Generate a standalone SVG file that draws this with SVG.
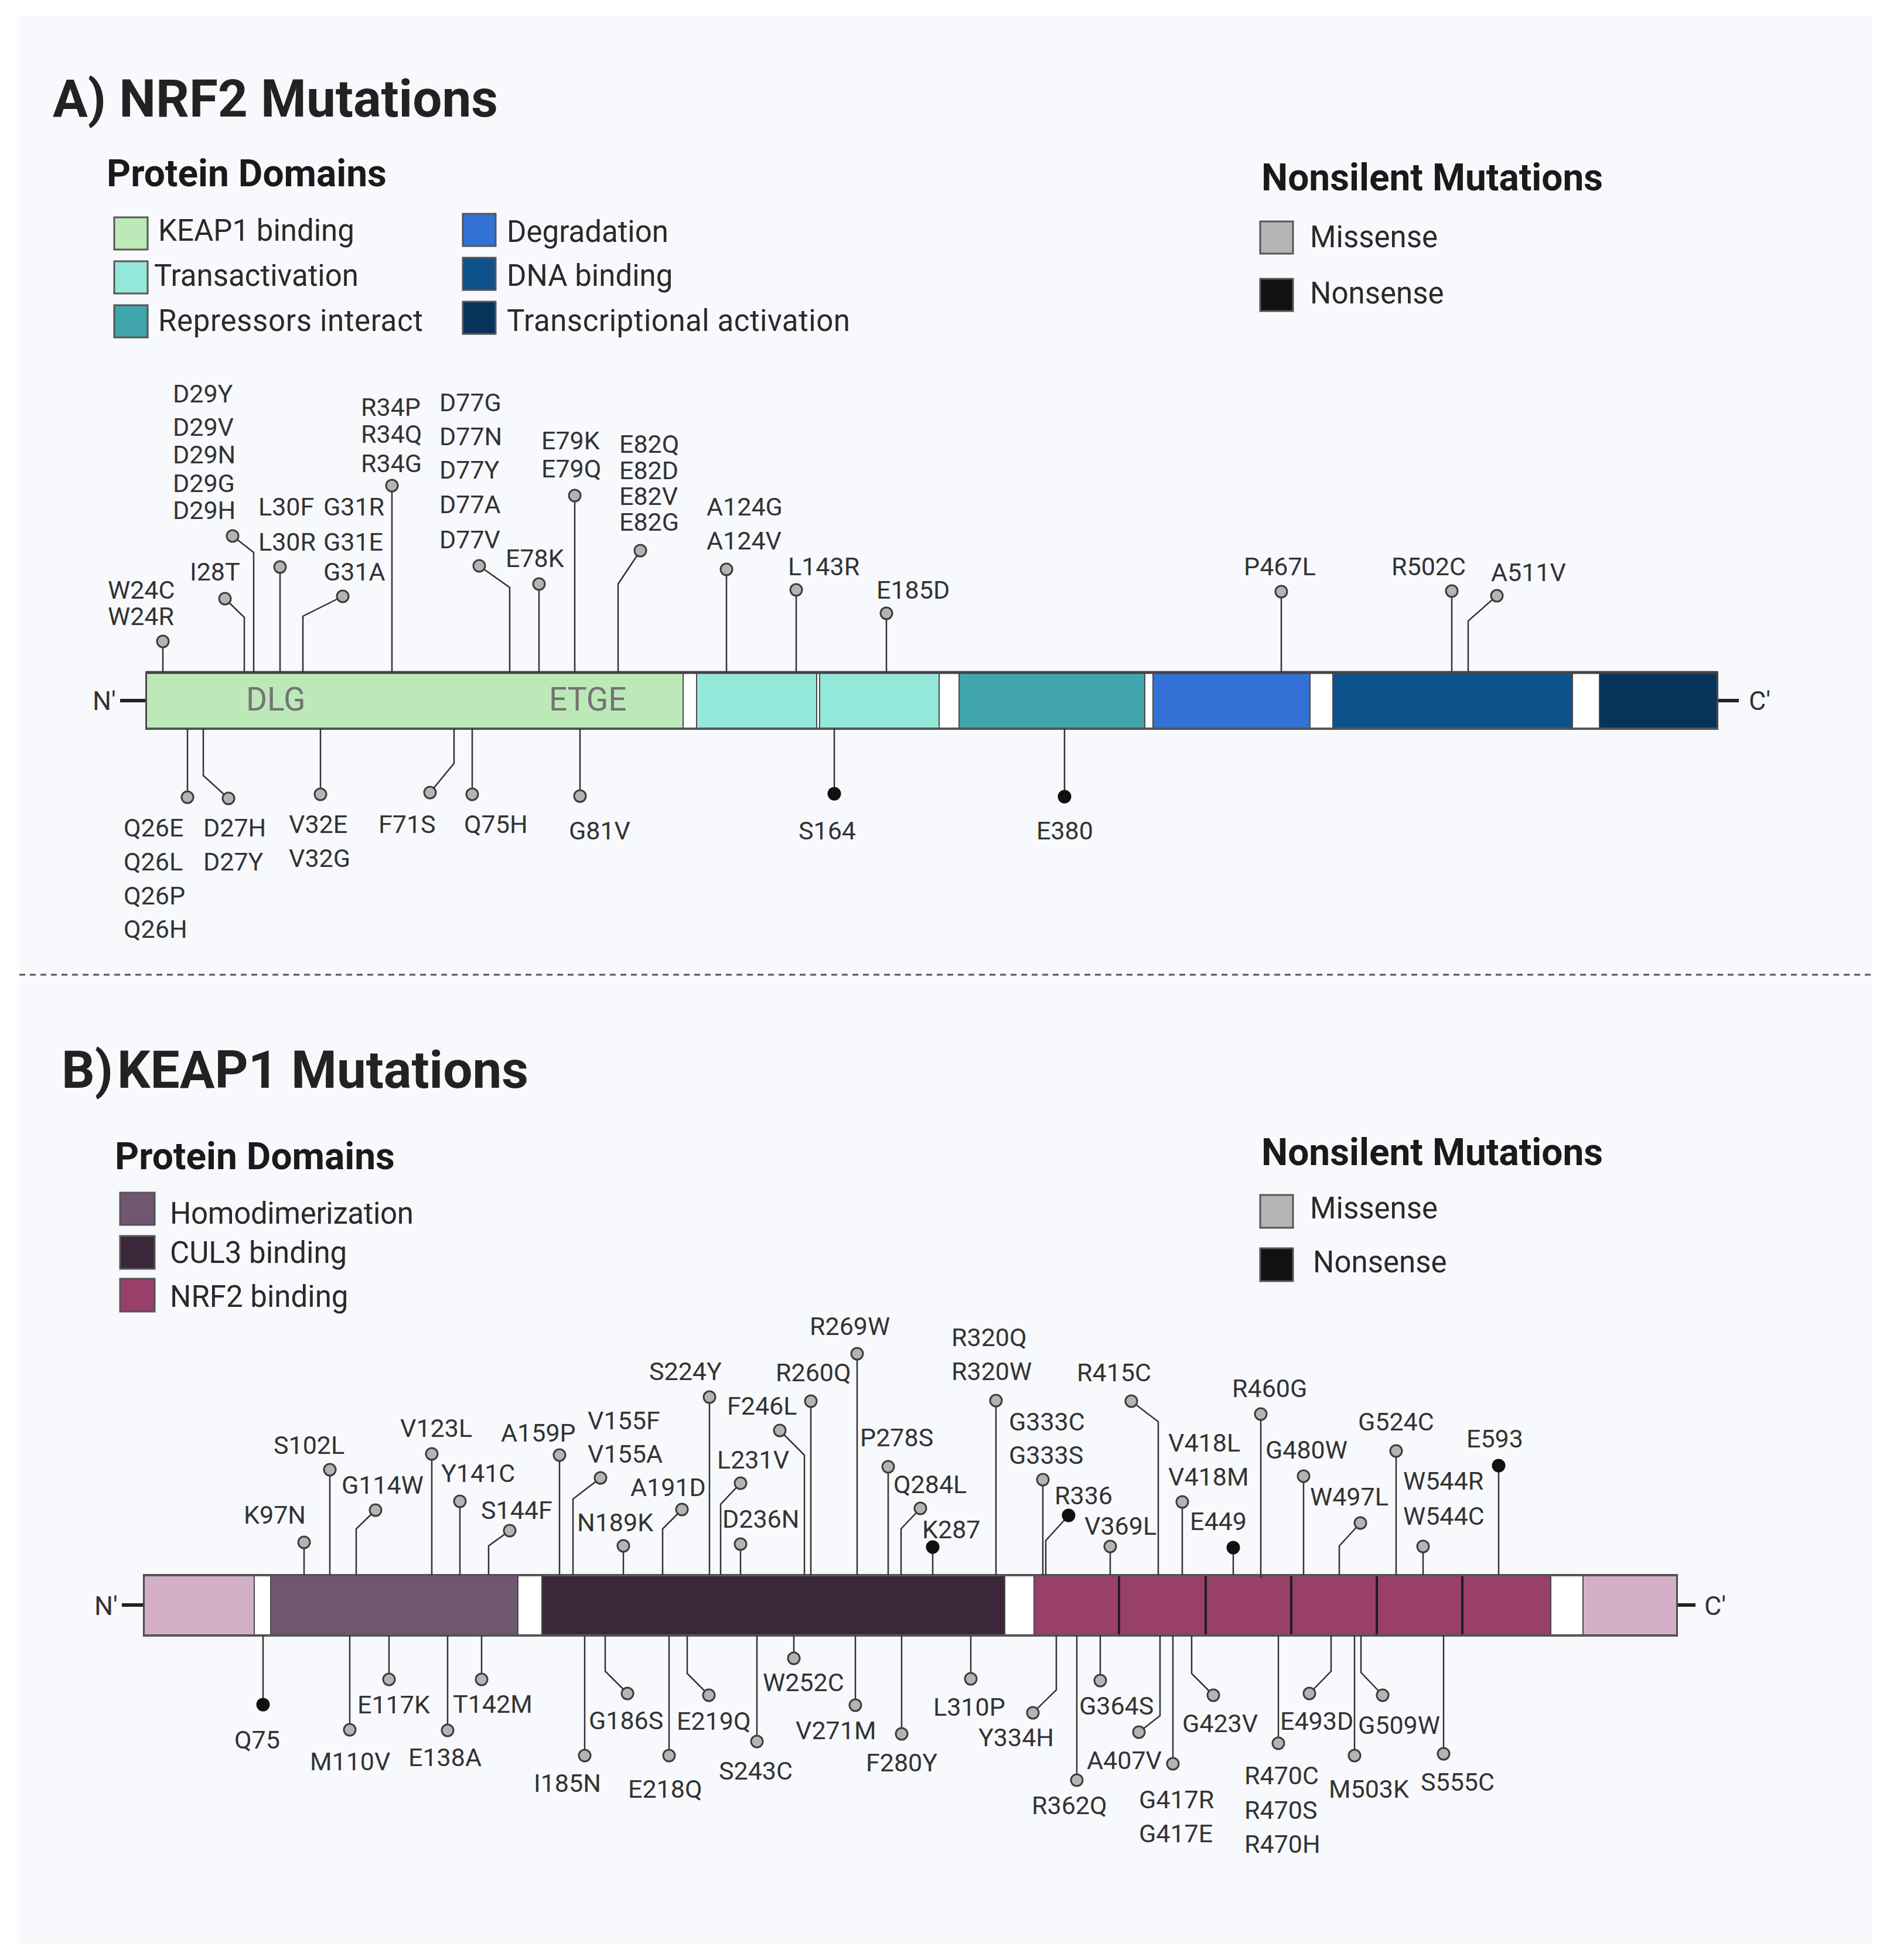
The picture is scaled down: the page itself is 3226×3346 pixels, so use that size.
<svg xmlns="http://www.w3.org/2000/svg" width="3226" height="3346" viewBox="0 0 3226 3346">
<style>
text{font-family:Roboto,"Liberation Sans",sans-serif;fill:#333}
.t1{font-size:89px;font-weight:700;fill:#222}
.t2{font-size:64px;font-weight:700;fill:#1a1a1a}
.lg{font-size:51px;fill:#2a2a2a}
.l{font-size:43px}
.nc{font-size:45px}
.dm{font-size:55px;fill:#747474}
.sq{stroke:#555;stroke-width:3}
.st{stroke:#333;stroke-width:2.5;fill:none}
.m{fill:#b4b4b4;stroke:#3d3d3d;stroke-width:3}
.n{fill:#111;stroke:#111;stroke-width:3}
.bd{stroke:#4a4a4a;stroke-width:2}
</style>
<rect x="0" y="0" width="3226" height="3346" fill="#ffffff"/>
<rect x="33" y="27" width="3162" height="3292" fill="#f8f9fc"/>
<line x1="33" y1="1664" x2="3195" y2="1664" stroke="#555" stroke-width="3" stroke-dasharray="10 8"/>

<!-- Panel A -->
<g id="titleA"><text class="t1" x="90" y="199">A) NRF2 Mutations</text></g>
<g id="legendA-domains">
<text class="t2" x="182" y="318">Protein Domains</text>
<rect class="sq" x="195" y="371" width="57" height="55" fill="#bde9b9"/><text class="lg" x="270" y="411">KEAP1 binding</text>
<rect class="sq" x="195" y="446" width="57" height="55" fill="#94e8da"/><text class="lg" x="263" y="488">Transactivation</text>
<rect class="sq" x="195" y="521" width="57" height="55" fill="#41a5ae"/><text class="lg" x="270" y="565" textLength="452">Repressors interact</text>
<rect class="sq" x="790" y="365" width="56" height="55" fill="#3272d6"/><text class="lg" x="865" y="413">Degradation</text>
<rect class="sq" x="790" y="440" width="56" height="55" fill="#0e528c"/><text class="lg" x="865" y="488">DNA binding</text>
<rect class="sq" x="790" y="515" width="56" height="55" fill="#06335a"/><text class="lg" x="865" y="565" textLength="586">Transcriptional activation</text>
</g>
<g id="legendA-mut">
<text class="t2" x="2153" y="325">Nonsilent Mutations</text>
<rect class="sq" x="2151" y="378" width="56" height="55" fill="#b4b4b4"/><text class="lg" x="2236" y="422">Missense</text>
<rect class="sq" x="2151" y="476" width="56" height="55" fill="#111"/><text class="lg" x="2236" y="518">Nonsense</text>
</g>

<g id="nrf2-bar">
<line x1="205" y1="1196" x2="250" y2="1196" stroke="#222" stroke-width="6"/>
<text class="nc" x="158" y="1212">N'</text>
<line x1="2931" y1="1196" x2="2968" y2="1196" stroke="#222" stroke-width="6"/>
<text class="nc" x="2985" y="1212">C'</text>
<rect x="250" y="1148" width="2681" height="96" fill="#fff" stroke="#4a4a4a" stroke-width="4"/>
<rect class="bd" x="250" y="1148" width="916" height="96" fill="#bde9b9"/>
<rect class="bd" x="1189" y="1148" width="205" height="96" fill="#94e8da"/>
<rect class="bd" x="1399" y="1148" width="204" height="96" fill="#94e8da"/>
<rect class="bd" x="1637" y="1148" width="317" height="96" fill="#41a5ae"/>
<rect class="bd" x="1968" y="1148" width="268" height="96" fill="#3272d6"/>
<rect class="bd" x="2275" y="1148" width="409" height="96" fill="#0e528c"/>
<rect class="bd" x="2730" y="1148" width="201" height="96" fill="#06335a"/>
<line x1="250" y1="1148" x2="2931" y2="1148" stroke="#444" stroke-width="5"/>
<line x1="250" y1="1244" x2="2931" y2="1244" stroke="#555" stroke-width="4"/>
<text class="dm" x="420" y="1213">DLG</text>
<text class="dm" x="937" y="1213">ETGE</text>
</g>

<g id="nrf2-connectors">
<polyline class="st" points="278,1148 278,1095"/>
<polyline class="st" points="417,1148 417,1054 384,1022"/>
<polyline class="st" points="433,1148 433,943 397,915"/>
<polyline class="st" points="478,1148 478,968"/>
<polyline class="st" points="517,1148 517,1052 585,1018"/>
<polyline class="st" points="669,1148 669,829"/>
<polyline class="st" points="870,1148 870,1003 818,966"/>
<polyline class="st" points="920,1148 920,997"/>
<polyline class="st" points="981,1148 981,846"/>
<polyline class="st" points="1055,1148 1055,997 1093,940"/>
<polyline class="st" points="1240,1148 1240,972"/>
<polyline class="st" points="1359,1148 1359,1007"/>
<polyline class="st" points="1513,1148 1513,1047"/>
<polyline class="st" points="2187,1148 2187,1010"/>
<polyline class="st" points="2478,1148 2478,1009"/>
<polyline class="st" points="2506,1148 2506,1060 2555,1017"/>
<polyline class="st" points="320,1244 320,1361"/>
<polyline class="st" points="347,1244 347,1324 390,1363"/>
<polyline class="st" points="547,1244 547,1356"/>
<polyline class="st" points="775,1244 775,1303 734,1353"/>
<polyline class="st" points="806,1244 806,1356"/>
<polyline class="st" points="990,1244 990,1359"/>
<polyline class="st" points="1424,1244 1424,1355"/>
<polyline class="st" points="1817,1244 1817,1360"/>
</g>

<g id="nrf2-W24"><circle class="m" cx="278" cy="1095" r="10"/><text class="l" x="184" y="1022">W24C</text><text class="l" x="184" y="1067">W24R</text></g>
<g id="nrf2-I28"><circle class="m" cx="384" cy="1022" r="10"/><text class="l" x="324" y="991">I28T</text></g>
<g id="nrf2-D29"><circle class="m" cx="397" cy="915" r="10"/><text class="l" x="295" y="687">D29Y</text><text class="l" x="295" y="744">D29V</text><text class="l" x="295" y="791">D29N</text><text class="l" x="295" y="840">D29G</text><text class="l" x="295" y="886">D29H</text></g>
<g id="nrf2-L30"><circle class="m" cx="478" cy="968" r="10"/><text class="l" x="441" y="880">L30F</text><text class="l" x="441" y="940">L30R</text></g>
<g id="nrf2-G31"><circle class="m" cx="585" cy="1018" r="10"/><text class="l" x="552" y="880">G31R</text><text class="l" x="552" y="940">G31E</text><text class="l" x="552" y="991">G31A</text></g>
<g id="nrf2-R34"><circle class="m" cx="669" cy="829" r="10"/><text class="l" x="616" y="710">R34P</text><text class="l" x="616" y="756">R34Q</text><text class="l" x="616" y="806">R34G</text></g>
<g id="nrf2-D77"><circle class="m" cx="818" cy="966" r="10"/><text class="l" x="750" y="702">D77G</text><text class="l" x="750" y="760">D77N</text><text class="l" x="750" y="817">D77Y</text><text class="l" x="750" y="876">D77A</text><text class="l" x="750" y="936">D77V</text></g>
<g id="nrf2-E78"><circle class="m" cx="920" cy="997" r="10"/><text class="l" x="863" y="968">E78K</text></g>
<g id="nrf2-E79"><circle class="m" cx="981" cy="846" r="10"/><text class="l" x="924" y="767">E79K</text><text class="l" x="924" y="815">E79Q</text></g>
<g id="nrf2-E82"><circle class="m" cx="1093" cy="940" r="10"/><text class="l" x="1057" y="773">E82Q</text><text class="l" x="1057" y="818">E82D</text><text class="l" x="1057" y="862">E82V</text><text class="l" x="1057" y="906">E82G</text></g>
<g id="nrf2-A124"><circle class="m" cx="1240" cy="972" r="10"/><text class="l" x="1206" y="880">A124G</text><text class="l" x="1206" y="938">A124V</text></g>
<g id="nrf2-L143"><circle class="m" cx="1359" cy="1007" r="10"/><text class="l" x="1345" y="982">L143R</text></g>
<g id="nrf2-E185"><circle class="m" cx="1513" cy="1047" r="10"/><text class="l" x="1496" y="1022">E185D</text></g>
<g id="nrf2-P467"><circle class="m" cx="2187" cy="1010" r="10"/><text class="l" x="2123" y="982">P467L</text></g>
<g id="nrf2-R502"><circle class="m" cx="2478" cy="1009" r="10"/><text class="l" x="2375" y="982">R502C</text></g>
<g id="nrf2-A511"><circle class="m" cx="2555" cy="1017" r="10"/><text class="l" x="2545" y="992">A511V</text></g>
<g id="nrf2-Q26"><circle class="m" cx="320" cy="1361" r="10"/><text class="l" x="211" y="1428">Q26E</text><text class="l" x="211" y="1486">Q26L</text><text class="l" x="211" y="1544">Q26P</text><text class="l" x="211" y="1601">Q26H</text></g>
<g id="nrf2-D27"><circle class="m" cx="390" cy="1363" r="10"/><text class="l" x="347" y="1428">D27H</text><text class="l" x="347" y="1486">D27Y</text></g>
<g id="nrf2-V32"><circle class="m" cx="547" cy="1356" r="10"/><text class="l" x="493" y="1422">V32E</text><text class="l" x="493" y="1480">V32G</text></g>
<g id="nrf2-F71"><circle class="m" cx="734" cy="1353" r="10"/><text class="l" x="646" y="1422">F71S</text></g>
<g id="nrf2-Q75"><circle class="m" cx="806" cy="1356" r="10"/><text class="l" x="792" y="1422">Q75H</text></g>
<g id="nrf2-G81"><circle class="m" cx="990" cy="1359" r="10"/><text class="l" x="971" y="1433">G81V</text></g>
<g id="nrf2-S164"><circle class="n" cx="1424" cy="1355" r="10"/><text class="l" x="1363" y="1433">S164</text></g>
<g id="nrf2-E380"><circle class="n" cx="1817" cy="1360" r="10"/><text class="l" x="1769" y="1433">E380</text></g>

<!-- Panel B -->
<g id="titleB"><text class="t1" x="105" y="1857">B)<tspan x="200">KEAP1 Mutations</tspan></text></g>
<g id="legendB-domains">
<text class="t2" x="196" y="1996">Protein Domains</text>
<rect class="sq" x="205" y="2036" width="59" height="55" fill="#6f5671"/><text class="lg" x="290" y="2089" textLength="416">Homodimerization</text>
<rect class="sq" x="205" y="2110" width="59" height="56" fill="#3b2739"/><text class="lg" x="290" y="2156">CUL3 binding</text>
<rect class="sq" x="205" y="2183" width="59" height="56" fill="#983f6a"/><text class="lg" x="290" y="2231">NRF2 binding</text>
</g>
<g id="legendB-mut">
<text class="t2" x="2153" y="1989">Nonsilent Mutations</text>
<rect class="sq" x="2151" y="2040" width="56" height="56" fill="#b4b4b4"/><text class="lg" x="2236" y="2080">Missense</text>
<rect class="sq" x="2151" y="2131" width="56" height="56" fill="#111"/><text class="lg" x="2241" y="2172">Nonsense</text>
</g>

<g id="keap1-bar">
<line x1="208" y1="2740" x2="246" y2="2740" stroke="#222" stroke-width="6"/>
<text class="nc" x="161" y="2757">N'</text>
<line x1="2862" y1="2740" x2="2894" y2="2740" stroke="#222" stroke-width="6"/>
<text class="nc" x="2909" y="2757">C'</text>
<rect x="246" y="2689" width="2616" height="103" fill="#fff" stroke="#4a4a4a" stroke-width="4"/>
<rect class="bd" x="246" y="2689" width="188" height="103" fill="#d3afc8"/>
<rect class="bd" x="462" y="2689" width="422" height="103" fill="#6f5671"/>
<rect class="bd" x="925" y="2689" width="790" height="103" fill="#3b2739"/>
<rect class="bd" x="1765" y="2689" width="882" height="103" fill="#983f6a"/>
<rect class="bd" x="2702" y="2689" width="160" height="103" fill="#d3afc8"/>
<g stroke="#1e1e1e" stroke-width="4">
<line x1="1910" y1="2689" x2="1910" y2="2792"/><line x1="2058" y1="2689" x2="2058" y2="2792"/><line x1="2204" y1="2689" x2="2204" y2="2792"/><line x1="2350" y1="2689" x2="2350" y2="2792"/><line x1="2496" y1="2689" x2="2496" y2="2792"/>
</g>
<line x1="246" y1="2689" x2="2862" y2="2689" stroke="#555" stroke-width="4"/>
<line x1="246" y1="2792" x2="2862" y2="2792" stroke="#555" stroke-width="4"/>
</g>

<g id="keap1-connectors">
<polyline class="st" points="519,2689 519,2633"/>
<polyline class="st" points="563,2689 563,2509"/>
<polyline class="st" points="608,2689 608,2610 641,2578"/>
<polyline class="st" points="737,2689 737,2482"/>
<polyline class="st" points="785,2689 785,2563"/>
<polyline class="st" points="834,2689 834,2639 870,2613"/>
<polyline class="st" points="955,2689 955,2484"/>
<polyline class="st" points="978,2689 978,2559 1025,2523"/>
<polyline class="st" points="1064,2689 1064,2639"/>
<polyline class="st" points="1131,2689 1131,2610 1164,2577"/>
<polyline class="st" points="1211,2689 1211,2385"/>
<polyline class="st" points="1230,2689 1230,2568 1264,2532"/>
<polyline class="st" points="1264,2689 1264,2636"/>
<polyline class="st" points="1373,2689 1373,2484 1331,2442"/>
<polyline class="st" points="1384,2689 1384,2392"/>
<polyline class="st" points="1463,2689 1463,2311"/>
<polyline class="st" points="1516,2689 1516,2504"/>
<polyline class="st" points="1538,2689 1538,2610 1571,2575"/>
<polyline class="st" points="1592,2689 1592,2641"/>
<polyline class="st" points="1700,2689 1700,2391"/>
<polyline class="st" points="1780,2689 1780,2526"/>
<polyline class="st" points="1785,2689 1785,2630 1824,2587"/>
<polyline class="st" points="1895,2689 1895,2640"/>
<polyline class="st" points="1977,2689 1977,2427 1931,2392"/>
<polyline class="st" points="2018,2689 2018,2564"/>
<polyline class="st" points="2105,2689 2105,2642"/>
<polyline class="st" points="2152,2694 2152,2414"/>
<polyline class="st" points="2225,2689 2225,2520"/>
<polyline class="st" points="2286,2689 2286,2639 2322,2600"/>
<polyline class="st" points="2383,2689 2383,2477"/>
<polyline class="st" points="2429,2689 2429,2640"/>
<polyline class="st" points="2558,2689 2558,2502"/>
<polyline class="st" points="449,2792 449,2910"/>
<polyline class="st" points="597,2792 597,2953"/>
<polyline class="st" points="664,2792 664,2867"/>
<polyline class="st" points="764,2792 764,2954"/>
<polyline class="st" points="822,2792 822,2867"/>
<polyline class="st" points="998,2792 998,2997"/>
<polyline class="st" points="1033,2792 1033,2853 1071,2891"/>
<polyline class="st" points="1142,2792 1142,2997"/>
<polyline class="st" points="1173,2792 1173,2857 1210,2894"/>
<polyline class="st" points="1292,2792 1292,2973"/>
<polyline class="st" points="1355,2792 1355,2831"/>
<polyline class="st" points="1460,2792 1460,2911"/>
<polyline class="st" points="1539,2792 1539,2960"/>
<polyline class="st" points="1657,2792 1657,2866"/>
<polyline class="st" points="1803,2792 1803,2885 1763,2924"/>
<polyline class="st" points="1838,2792 1838,3039"/>
<polyline class="st" points="1878,2792 1878,2869"/>
<polyline class="st" points="1980,2792 1980,2929 1944,2957"/>
<polyline class="st" points="2002,2792 2002,3011"/>
<polyline class="st" points="2034,2792 2034,2857 2071,2894"/>
<polyline class="st" points="2182,2792 2182,2976"/>
<polyline class="st" points="2272,2792 2272,2853 2235,2891"/>
<polyline class="st" points="2312,2792 2312,2997"/>
<polyline class="st" points="2323,2792 2323,2855 2360,2894"/>
<polyline class="st" points="2464,2792 2464,2994"/>
</g>

<g id="keap1-K97"><circle class="m" cx="519" cy="2633" r="10"/><text class="l" x="416" y="2601">K97N</text></g>
<g id="keap1-S102"><circle class="m" cx="563" cy="2509" r="10"/><text class="l" x="467" y="2482">S102L</text></g>
<g id="keap1-G114"><circle class="m" cx="641" cy="2578" r="10"/><text class="l" x="583" y="2550">G114W</text></g>
<g id="keap1-V123"><circle class="m" cx="737" cy="2482" r="10"/><text class="l" x="683" y="2453">V123L</text></g>
<g id="keap1-Y141"><circle class="m" cx="785" cy="2563" r="10"/><text class="l" x="753" y="2530">Y141C</text></g>
<g id="keap1-S144"><circle class="m" cx="870" cy="2613" r="10"/><text class="l" x="821" y="2593">S144F</text></g>
<g id="keap1-A159"><circle class="m" cx="955" cy="2484" r="10"/><text class="l" x="855" y="2461">A159P</text></g>
<g id="keap1-V155"><circle class="m" cx="1025" cy="2523" r="10"/><text class="l" x="1003" y="2440">V155F</text><text class="l" x="1003" y="2497">V155A</text></g>
<g id="keap1-N189"><circle class="m" cx="1064" cy="2639" r="10"/><text class="l" x="985" y="2614">N189K</text></g>
<g id="keap1-A191"><circle class="m" cx="1164" cy="2577" r="10"/><text class="l" x="1076" y="2554">A191D</text></g>
<g id="keap1-S224"><circle class="m" cx="1211" cy="2385" r="10"/><text class="l" x="1108" y="2356">S224Y</text></g>
<g id="keap1-L231"><circle class="m" cx="1264" cy="2532" r="10"/><text class="l" x="1224" y="2507">L231V</text></g>
<g id="keap1-D236"><circle class="m" cx="1264" cy="2636" r="10"/><text class="l" x="1233" y="2608">D236N</text></g>
<g id="keap1-F246"><circle class="m" cx="1331" cy="2442" r="10"/><text class="l" x="1241" y="2415">F246L</text></g>
<g id="keap1-R260"><circle class="m" cx="1384" cy="2392" r="10"/><text class="l" x="1324" y="2358">R260Q</text></g>
<g id="keap1-R269"><circle class="m" cx="1463" cy="2311" r="10"/><text class="l" x="1382" y="2279">R269W</text></g>
<g id="keap1-P278"><circle class="m" cx="1516" cy="2504" r="10"/><text class="l" x="1468" y="2469">P278S</text></g>
<g id="keap1-Q284"><circle class="m" cx="1571" cy="2575" r="10"/><text class="l" x="1525" y="2549">Q284L</text></g>
<g id="keap1-K287"><circle class="n" cx="1592" cy="2641" r="10"/><text class="l" x="1574" y="2626">K287</text></g>
<g id="keap1-R320"><circle class="m" cx="1700" cy="2391" r="10"/><text class="l" x="1624" y="2298">R320Q</text><text class="l" x="1624" y="2356">R320W</text></g>
<g id="keap1-G333"><circle class="m" cx="1780" cy="2526" r="10"/><text class="l" x="1722" y="2442">G333C</text><text class="l" x="1722" y="2499">G333S</text></g>
<g id="keap1-R336"><circle class="n" cx="1824" cy="2587" r="10"/><text class="l" x="1800" y="2568">R336</text></g>
<g id="keap1-V369"><circle class="m" cx="1895" cy="2640" r="10"/><text class="l" x="1851" y="2620">V369L</text></g>
<g id="keap1-R415"><circle class="m" cx="1931" cy="2392" r="10"/><text class="l" x="1838" y="2358">R415C</text></g>
<g id="keap1-V418"><circle class="m" cx="2018" cy="2564" r="10"/><text class="l" x="1994" y="2478">V418L</text><text class="l" x="1994" y="2536">V418M</text></g>
<g id="keap1-E449"><circle class="n" cx="2105" cy="2642" r="10"/><text class="l" x="2031" y="2612">E449</text></g>
<g id="keap1-R460"><circle class="m" cx="2152" cy="2414" r="10"/><text class="l" x="2103" y="2385">R460G</text></g>
<g id="keap1-G480"><circle class="m" cx="2225" cy="2520" r="10"/><text class="l" x="2160" y="2490">G480W</text></g>
<g id="keap1-W497"><circle class="m" cx="2322" cy="2600" r="10"/><text class="l" x="2236" y="2570">W497L</text></g>
<g id="keap1-G524"><circle class="m" cx="2383" cy="2477" r="10"/><text class="l" x="2318" y="2442">G524C</text></g>
<g id="keap1-W544"><circle class="m" cx="2429" cy="2640" r="10"/><text class="l" x="2395" y="2543">W544R</text><text class="l" x="2395" y="2603">W544C</text></g>
<g id="keap1-E593"><circle class="n" cx="2558" cy="2502" r="10"/><text class="l" x="2503" y="2471">E593</text></g>

<g id="keap1-Q75"><circle class="n" cx="449" cy="2910" r="10"/><text class="l" x="400" y="2985">Q75</text></g>
<g id="keap1-M110"><circle class="m" cx="597" cy="2953" r="10"/><text class="l" x="529" y="3022">M110V</text></g>
<g id="keap1-E117"><circle class="m" cx="664" cy="2867" r="10"/><text class="l" x="610" y="2925">E117K</text></g>
<g id="keap1-E138"><circle class="m" cx="764" cy="2954" r="10"/><text class="l" x="697" y="3015">E138A</text></g>
<g id="keap1-T142"><circle class="m" cx="822" cy="2867" r="10"/><text class="l" x="773" y="2924">T142M</text></g>
<g id="keap1-I185"><circle class="m" cx="998" cy="2997" r="10"/><text class="l" x="911" y="3059">I185N</text></g>
<g id="keap1-G186"><circle class="m" cx="1071" cy="2891" r="10"/><text class="l" x="1005" y="2952">G186S</text></g>
<g id="keap1-E218"><circle class="m" cx="1142" cy="2997" r="10"/><text class="l" x="1072" y="3069">E218Q</text></g>
<g id="keap1-E219"><circle class="m" cx="1210" cy="2894" r="10"/><text class="l" x="1155" y="2953">E219Q</text></g>
<g id="keap1-S243"><circle class="m" cx="1292" cy="2973" r="10"/><text class="l" x="1227" y="3038">S243C</text></g>
<g id="keap1-W252"><circle class="m" cx="1355" cy="2831" r="10"/><text class="l" x="1302" y="2887">W252C</text></g>
<g id="keap1-V271"><circle class="m" cx="1460" cy="2911" r="10"/><text class="l" x="1358" y="2969">V271M</text></g>
<g id="keap1-F280"><circle class="m" cx="1539" cy="2960" r="10"/><text class="l" x="1478" y="3024">F280Y</text></g>
<g id="keap1-L310"><circle class="m" cx="1657" cy="2866" r="10"/><text class="l" x="1593" y="2929">L310P</text></g>
<g id="keap1-Y334"><circle class="m" cx="1763" cy="2924" r="10"/><text class="l" x="1670" y="2981">Y334H</text></g>
<g id="keap1-R362"><circle class="m" cx="1838" cy="3039" r="10"/><text class="l" x="1761" y="3097">R362Q</text></g>
<g id="keap1-G364"><circle class="m" cx="1878" cy="2869" r="10"/><text class="l" x="1842" y="2927">G364S</text></g>
<g id="keap1-A407"><circle class="m" cx="1944" cy="2957" r="10"/><text class="l" x="1855" y="3020">A407V</text></g>
<g id="keap1-G417"><circle class="m" cx="2002" cy="3011" r="10"/><text class="l" x="1944" y="3087">G417R</text><text class="l" x="1944" y="3145">G417E</text></g>
<g id="keap1-G423"><circle class="m" cx="2071" cy="2894" r="10"/><text class="l" x="2018" y="2957">G423V</text></g>
<g id="keap1-R470"><circle class="m" cx="2182" cy="2976" r="10"/><text class="l" x="2124" y="3046">R470C</text><text class="l" x="2124" y="3105">R470S</text><text class="l" x="2124" y="3163">R470H</text></g>
<g id="keap1-E493"><circle class="m" cx="2235" cy="2891" r="10"/><text class="l" x="2185" y="2953">E493D</text></g>
<g id="keap1-M503"><circle class="m" cx="2312" cy="2997" r="10"/><text class="l" x="2268" y="3069">M503K</text></g>
<g id="keap1-G509"><circle class="m" cx="2360" cy="2894" r="10"/><text class="l" x="2318" y="2960">G509W</text></g>
<g id="keap1-S555"><circle class="m" cx="2464" cy="2994" r="10"/><text class="l" x="2425" y="3057">S555C</text></g>
</svg>
